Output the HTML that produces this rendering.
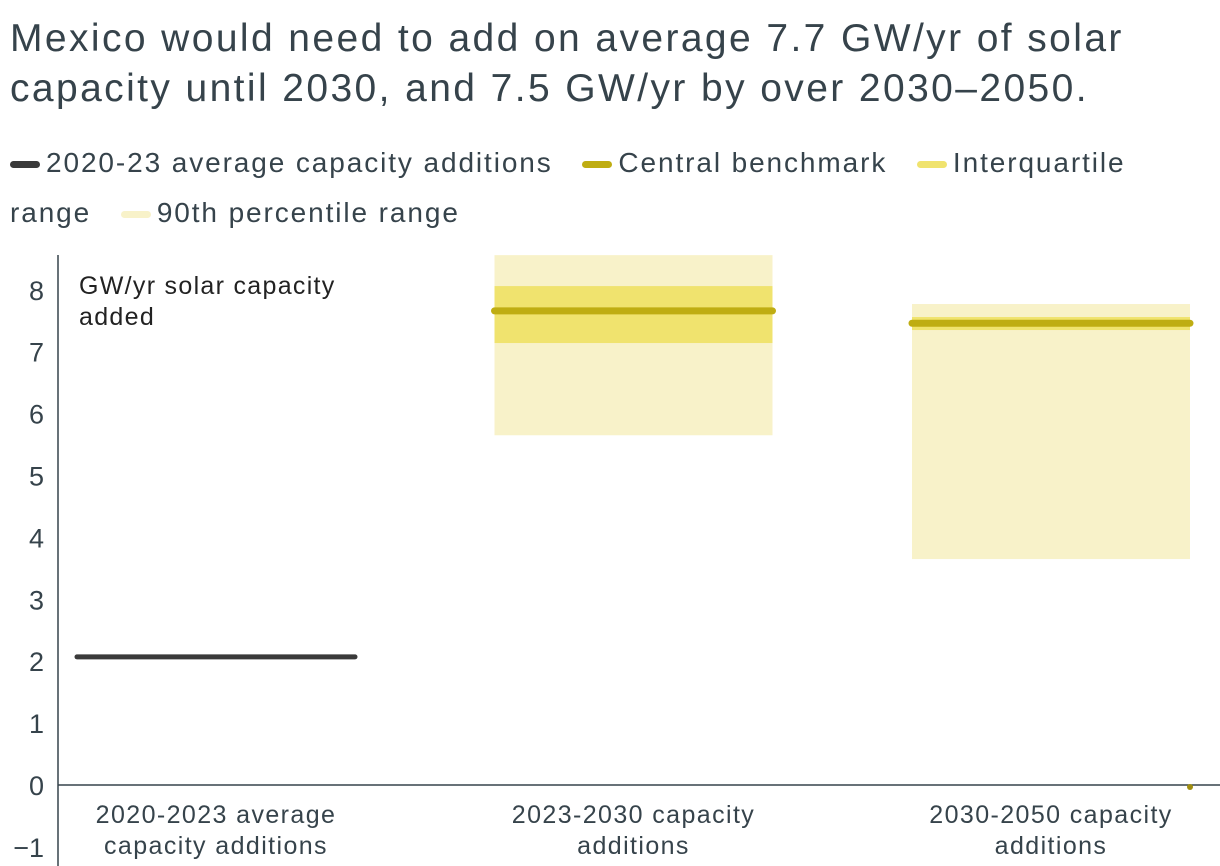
<!DOCTYPE html>
<html><head><meta charset="utf-8"><style>
body{margin:0;background:#fff;width:1220px;height:866px;overflow:hidden;font-family:"Liberation Sans",sans-serif;color:#36434b}
#title{position:absolute;left:10px;top:14px;font-size:39px;line-height:50px;width:1150px;letter-spacing:2.4px}
#legend{position:absolute;left:10px;top:138px;font-size:28px;line-height:50px;width:1150px;letter-spacing:1.9px}
.li{margin-right:20px}
.sw{display:inline-block;width:30px;height:7px;border-radius:4px;vertical-align:middle;margin-right:6px}
svg{position:absolute;left:0;top:0}
</style></head><body>
<div id="title">Mexico would need to add on average 7.7 GW/yr of solar capacity until 2030, and 7.5 GW/yr by over 2030–2050.</div>
<div id="legend">
<span class="li"><span class="sw" style="background:#3a3a3a"></span>2020-23 average capacity additions</span> <span class="li"><span class="sw" style="background:#bfad12"></span>Central benchmark</span> <span class="li"><span class="sw" style="background:#f0e36e"></span>Interquartile range</span> <span class="li"><span class="sw" style="background:#f8f2c9"></span>90th percentile range</span>
</div>
<svg id="chart" width="1220" height="866"></svg>
<script>
const categories=["2020-2023 average capacity additions","2023-2030 capacity additions","2030-2050 capacity additions"];
const averageValues=[2.07,null,null];
const centralValues=[null,7.66,7.46];
const iqrLow=[null,7.14,7.35];
const iqrHigh=[null,8.06,7.56];
const p90Low=[null,5.65,3.65];
const p90High=[null,8.56,7.77];
const yTicks=[-1,0,1,2,3,4,5,6,7,8];
const NS="http://www.w3.org/2000/svg";
const svg=document.getElementById('chart');
const y=v=>785-v*61.9;
const xc=i=>216+i*417.5;
const halfW=139;
function mk(t,a,parent){const e=document.createElementNS(NS,t);for(const k in a)e.setAttribute(k,a[k]);(parent||svg).appendChild(e);return e;}
yTicks.forEach(t=>{const e=mk('text',{x:44,y:y(t)+10,'text-anchor':'end','font-size':27,fill:'#36434b','font-family':'Liberation Sans, sans-serif'});e.textContent=t<0?'−'+(-t):t;

});
const ya=mk('line',{x1:58,x2:58,y1:255,y2:866,stroke:'#36434b','stroke-width':1.5});


const xa=mk('line',{x1:58,x2:1220,y1:y(0),y2:y(0),stroke:'#36434b','stroke-width':1.5});


const yt=mk('text',{x:79,y:294,'font-size':25,fill:'#222','font-family':'Liberation Sans, sans-serif','letter-spacing':1.3});
yt.innerHTML='<tspan x="79">GW/yr solar capacity</tspan><tspan x="79" dy="31">added</tspan>';


categories.forEach((c,i)=>{
  if(p90Low[i]!=null){const r=mk('rect',{x:xc(i)-halfW,y:y(p90High[i]),width:2*halfW,height:y(p90Low[i])-y(p90High[i]),fill:'#f8f2c9'});
  
  }
  if(iqrLow[i]!=null){const r=mk('rect',{x:xc(i)-halfW,y:y(iqrHigh[i]),width:2*halfW,height:y(iqrLow[i])-y(iqrHigh[i]),fill:'#f0e36e'});
  
  }
  if(centralValues[i]!=null){const l=mk('line',{x1:xc(i)-halfW,x2:xc(i)+halfW,y1:y(centralValues[i]),y2:y(centralValues[i]),stroke:'#bfad12','stroke-width':7,'stroke-linecap':'round'});
  
  }
  if(averageValues[i]!=null){const l=mk('line',{x1:xc(i)-halfW,x2:xc(i)+halfW,y1:y(averageValues[i]),y2:y(averageValues[i]),stroke:'#3a3a3a','stroke-width':5,'stroke-linecap':'round'});
  
  }
  const words=c.split(' ');const l1=i==0?'2020-2023 average':words.slice(0,2).join(' ');const l2=i==0?'capacity additions':words.slice(2).join(' ');
  const t=mk('text',{x:xc(i),y:823,'text-anchor':'middle','font-size':25,fill:'#36434b','font-family':'Liberation Sans, sans-serif','letter-spacing':1.4});
  t.innerHTML='<tspan x="'+xc(i)+'">'+l1+'</tspan><tspan x="'+xc(i)+'" dy="31">'+l2+'</tspan>';
  
  
});
const d=mk('circle',{cx:1190,cy:y(0)+2,r:3,fill:'#a08e10'});


</script>
</body></html>
